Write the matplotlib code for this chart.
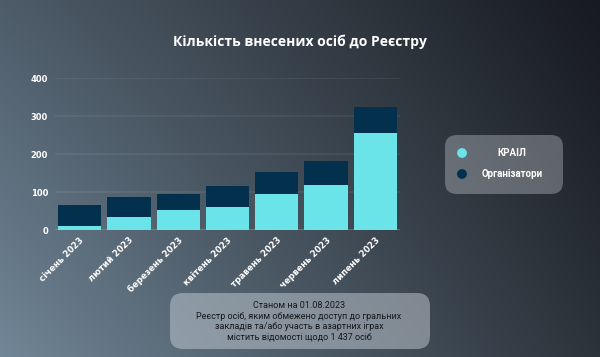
import matplotlib
matplotlib.use('Agg')
import matplotlib.pyplot as plt
import matplotlib.patches as mpatches
import numpy as np

# data
months = ['січень 2023', 'лютий 2023', 'березень 2023', 'квітень 2023',
          'травень 2023', 'червень 2023', 'липень 2023']
krail = [11, 35, 52, 61, 94, 118, 255]
organizers = [54, 52, 44, 56, 58, 64, 70]

CYAN = '#6ae4e8'
NAVY = '#03304c'

W, H = 600, 357

fig = plt.figure(figsize=(W / 100, H / 100), dpi=100)

# background gradient (bilinear between corner colours), pixel-space axes
bg = fig.add_axes([0, 0, 1, 1], zorder=0)
corners = {
    'tl': np.array([0x4e, 0x5c, 0x69]) / 255,
    'tr': np.array([0x17, 0x1a, 0x1f]) / 255,
    'bl': np.array([0x71, 0x86, 0x97]) / 255,
    'br': np.array([0x2c, 0x33, 0x3b]) / 255,
}
xs = np.linspace(0, 1, W)[None, :, None]
ys = np.linspace(0, 1, H)[:, None, None]
top = corners['tl'] * (1 - xs) + corners['tr'] * xs
bottom = corners['bl'] * (1 - xs) + corners['br'] * xs
grad = top * (1 - ys) + bottom * ys
bg.imshow(grad, extent=(0, W, H, 0), aspect='auto', zorder=0)
bg.set_xlim(0, W)
bg.set_ylim(H, 0)
bg.axis('off')

# title
bg.text(300, 42, 'Кількість внесених осіб до Реєстру', ha='center', va='center',
        color='white', fontsize=10, fontweight='bold', family='Open Sans')

# legend box
bg.add_patch(mpatches.FancyBboxPatch((445, 135), 118, 59,
                                     boxstyle='round,pad=0,rounding_size=12',
                                     facecolor='#d0d4da', alpha=0.35,
                                     edgecolor='none', zorder=1))
bg.add_patch(mpatches.Circle((462, 153), 4.2, color=CYAN, zorder=2))
bg.add_patch(mpatches.Circle((462, 174), 4.2, color=NAVY, zorder=2))
bg.text(512, 153, 'КРАІЛ', ha='center', va='center', color='white',
        fontsize=7, fontweight='bold', family='Roboto', zorder=3)
bg.text(512, 174, 'Організатори', ha='center', va='center', color='white',
        fontsize=7, fontweight='bold', family='Roboto', zorder=3)

# note box
bg.add_patch(mpatches.FancyBboxPatch((170, 293), 260, 56,
                                     boxstyle='round,pad=0,rounding_size=13',
                                     facecolor='#c4ccd4', alpha=0.5,
                                     edgecolor='none', zorder=1))
note = ('Станом на 01.08.2023\n'
        'Реєстр осіб, яким обмежено доступ до гральних\n'
        'закладів та/або участь в азартних іграх\n'
        'містить відомості щодо 1 437 осіб')
bg.text(299, 321.5, note, ha='center', va='center', color='#15181c',
        fontsize=6.5, linespacing=1.2, family='Roboto', zorder=3)

# bar chart
ax = fig.add_axes([55 / W, 1 - 230 / H, 345 / W, 152 / H], zorder=1)
ax.patch.set_alpha(0)
x = np.arange(len(months))
ax.bar(x, krail, width=0.88, color=CYAN, zorder=3)
ax.bar(x, organizers, bottom=krail, width=0.88, color=NAVY, zorder=3)

ax.set_xlim(-0.5, len(months) - 0.5)
ax.set_ylim(0, 400)
ax.set_yticks([0, 100, 200, 300, 400])
ax.grid(axis='y', color='white', alpha=0.07, linewidth=1.2, zorder=0)
ax.axhline(0, color='#8a97a3', linewidth=1.2, alpha=0.5, zorder=2)
for s in ax.spines.values():
    s.set_visible(False)
ax.tick_params(length=0, colors='white', labelsize=6, pad=5)
for lbl in ax.get_yticklabels():
    lbl.set_fontweight('bold')
ax.set_xticks(x)
ax.set_xticklabels(months, rotation=45, ha='right', va='top',
                   rotation_mode='anchor', fontweight='bold', fontsize=6.2)
ax.tick_params(axis='x', pad=4)

fig.savefig('out.png', dpi=100)
